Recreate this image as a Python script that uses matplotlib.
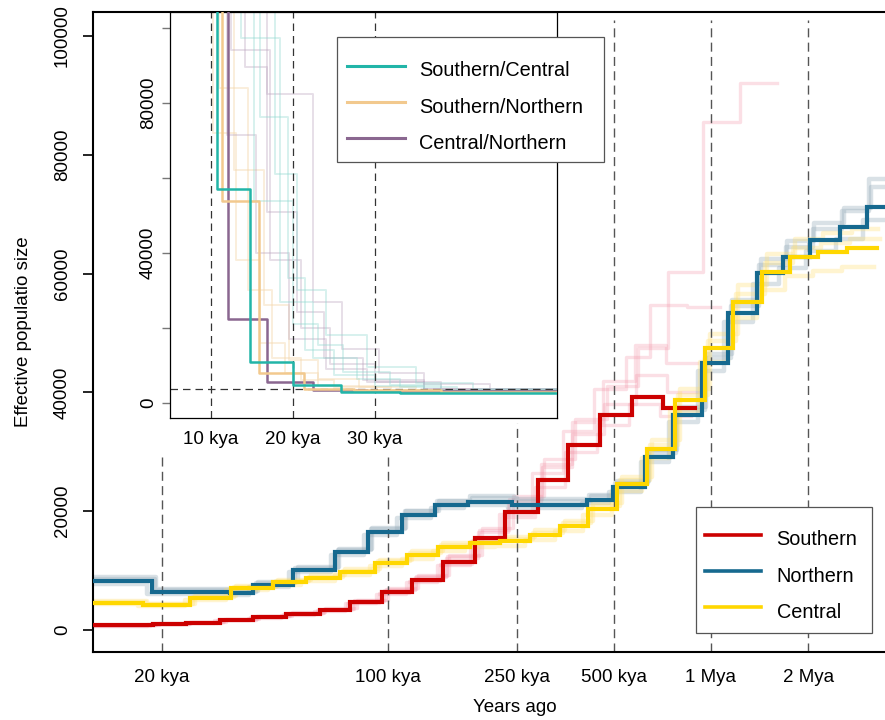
import matplotlib
matplotlib.use("Agg")
import matplotlib.pyplot as plt
from matplotlib.lines import Line2D
from matplotlib.patches import Rectangle
from matplotlib.ticker import NullLocator

plt.rcParams['font.family'] = ['Liberation Sans', 'DejaVu Sans']

# ---------------- main panel data (years, Ne) ----------------
south_t = [10000, 18700, 23700, 30200, 38200, 48300, 61600, 76300, 95800, 118700, 148000,
           186000, 230000, 291000, 361000, 453000, 569000, 710000, 891000]
south_N = [760, 1010, 1260, 1680, 2190, 2690, 3370, 4710, 6400, 8420, 11450,
           15490, 19870, 25250, 31150, 36200, 39230, 37370]

north_t = [8000, 18600, 32400, 38200, 50800, 68500, 86700, 110500, 139800, 176800, 242000,
           413000, 497000, 625000, 763000, 938000, 1129000, 1388000, 1671000, 2026000,
           2508000, 3040000, 4000000]
north_N = [8250, 6400, 6150, 7580, 10100, 13130, 16500, 19360, 21040, 21550, 21040,
           21890, 24070, 29130, 36200, 44950, 53370, 60100, 62800, 65660, 67850, 71210]

central_t = [8000, 17400, 24400, 32700, 44100, 55800, 71000, 91200, 114500, 142900, 179600,
             222000, 275000, 341000, 416000, 512000, 634000, 774000, 958000, 1169000,
             1438000, 1757000, 2145000, 2636000, 3266000]
central_N = [4545, 4210, 5390, 7070, 8080, 8750, 9760, 11280, 12630, 13970, 14650,
             14980, 15990, 17510, 20370, 24580, 30470, 38720, 47480, 55220, 60270,
             62800, 63640, 64310]

# bootstrap replicates
south_b1_t = [10000, 19500, 24800, 31500, 40000, 50500, 64000, 80000, 100000, 124000, 155000,
              195000, 243000, 305000, 380000, 475000, 595000, 736000, 944000, 1229000, 1600000]
south_b1_N = [820, 1100, 1380, 1820, 2400, 2950, 3700, 5100, 7000, 9300, 12600,
              17200, 22500, 28800, 35500, 41000, 47500, 60300, 85500, 92100]
south_b2_t = [10000, 18000, 22800, 29000, 36800, 46500, 59000, 73500, 92000, 114000, 142000,
              179000, 221000, 279000, 347000, 435000, 545000, 647000, 843000, 1067000]
south_b2_N = [700, 950, 1200, 1600, 2100, 2600, 3250, 4500, 6100, 8100, 11000,
              15000, 19500, 26500, 33500, 40500, 46000, 54700, 54400]
south_b3_t = [10000, 19000, 24200, 30800, 39000, 49300, 62800, 78000, 97500, 121000, 151000,
              190000, 236000, 297000, 370000, 463000, 580000, 725000, 905000]
south_b3_N = [790, 1050, 1320, 1750, 2300, 2800, 3500, 4900, 6700, 8900, 12100,
              16500, 21500, 28000, 35000, 42000, 48000, 45000]
south_b4_t = [10000, 18300, 23200, 29600, 37400, 47300, 60300, 74800, 94000, 116500, 145000,
              182000, 225000, 285000, 354000, 444000, 557000, 695000, 870000]
south_b4_N = [740, 980, 1230, 1640, 2120, 2620, 3300, 4600, 6200, 8200, 11100,
              15000, 19000, 24000, 30000, 34500, 38000, 36000]
south_b5_t = [10000, 19200, 24400, 31000, 39300, 49600, 63300, 78500, 98500, 122000, 152000,
              191000, 237000, 299000, 372000, 466000, 585000, 730000, 915000]
south_b5_N = [800, 1060, 1330, 1780, 2320, 2860, 3600, 5000, 6900, 9100, 12400,
              16800, 22000, 27500, 33000, 38000, 43000, 40000]

north_b1_t = [8000, 19200, 33000, 39500, 52500, 70500, 89500, 114000, 144000, 182000, 250000,
              425000, 512000, 645000, 786000, 967000, 1163000, 1430000, 1721000, 2087000,
              2583000, 3131000, 4000000]
north_b1_N = [8900, 6900, 6600, 8000, 10600, 13700, 17200, 20100, 21800, 22300, 21700,
              22600, 25000, 30300, 37600, 46500, 55500, 62500, 65500, 68500, 71000, 74500]
north_b2_t = [8000, 18000, 31500, 37000, 49300, 66500, 84000, 107000, 135500, 171500, 235000,
              400000, 482000, 606000, 740000, 910000, 1095000, 1346000, 1621000, 1965000,
              2433000, 2949000, 4000000]
north_b2_N = [7800, 6000, 5900, 7200, 9700, 12700, 16000, 18800, 20500, 21000, 20600,
              21300, 23300, 28200, 35000, 43600, 51800, 58300, 61000, 63800, 65800, 69000]
north_b3_t = [8000, 19000, 32800, 39000, 51700, 69800, 88300, 112500, 142300, 180000, 246000,
              420000, 506000, 636000, 777000, 955000, 1150000, 1413000, 1701000, 2063000,
              2553000, 3095000, 4000000]
north_b3_N = [8600, 6700, 6400, 7900, 10400, 13500, 17000, 20000, 21700, 22500, 22000,
              22700, 24800, 29800, 37000, 45800, 54500, 61500, 64500, 67500, 70500, 76000]

central_b1_t = [8000, 18000, 25200, 33800, 45600, 57700, 73400, 94300, 118400, 147800, 185700,
                229600, 284400, 352600, 430200, 529500, 655600, 800400, 990700, 1209000,
                1487000, 1817000, 2218000, 2726000, 3300000]
central_b1_N = [4800, 4450, 5700, 7450, 8500, 9200, 10250, 11850, 13250, 14650, 15350,
                15700, 16800, 18400, 21400, 25800, 32000, 40600, 49800, 58000, 63300,
                65900, 66800, 67500]
central_b2_t = [8000, 16800, 23600, 31600, 42600, 53900, 68600, 88100, 110600, 138000, 173500,
                214500, 265600, 329400, 401900, 494600, 612400, 747700, 925400, 1129000,
                1389000, 1697000, 2072000, 2546000, 3200000]
central_b2_N = [4300, 4000, 5100, 6700, 7650, 8300, 9250, 10700, 12000, 13250, 13900,
                14200, 15200, 16600, 19350, 23350, 28950, 36800, 45100, 52450, 57250,
                59650, 60450, 61100]
central_b3_t = [8000, 17800, 24900, 33400, 45000, 57000, 72500, 93100, 116900, 145900, 183400,
                226700, 280800, 348200, 424800, 522800, 647400, 790300, 978200, 1193000,
                1468000, 1794000, 2190000, 2691000, 3330000]
central_b3_N = [4650, 4300, 5500, 7200, 8250, 8950, 10000, 11550, 12950, 14300, 15000,
                15350, 16400, 17950, 20900, 25200, 31200, 39600, 48600, 56600, 61800,
                64300, 65200, 65900]

main_ticks = [20000, 100000, 250000, 500000, 1000000, 2000000]
main_tick_labels = ["20 kya", "100 kya", "250 kya", "500 kya", "1 Mya", "2 Mya"]
y_ticks = [0, 20000, 40000, 60000, 80000, 100000]

# ---------------- inset data (kya, Ne) ----------------
sc_t = [4, 10.7, 14.8, 20.0, 25.8, 33.0, 60]
sc_N = [400000, 57150, 10930, 4710, 3050, 2590]
sn_t = [4, 11.4, 15.9, 21.3, 27.5, 38, 60]
sn_N = [400000, 53870, 8080, 3800, 3400, 3000]
cn_t = [4, 12.1, 16.8, 22.4, 29, 40, 60]
cn_N = [400000, 22480, 5600, 3550, 3300, 3100]

sc_boot_t = [[4, 13.7, 18.4, 22.5, 27.8, 33, 40, 60],
             [4, 15.2, 20.0, 23.1, 26.1, 31.8, 38, 60],
             [4, 16.0, 19.4, 21.5, 25.0, 30.0, 36, 60],
             [4, 17.8, 20.5, 24.0, 29.0, 35.0, 42, 60]]
sc_boot_N = [[400000, 97330, 27000, 12000, 6500, 4200, 3300],
             [400000, 53990, 21150, 15380, 8260, 4800, 3500],
             [400000, 76270, 33200, 14000, 7500, 4500, 3000],
             [400000, 61120, 30100, 18000, 9500, 5200, 3600]]
cn_boot_t = [[4, 12.5, 17.2, 21.0, 24.5, 30, 38, 60],
             [4, 14.1, 16.8, 20.5, 23.8, 28.5, 36, 60],
             [4, 16.8, 22.5, 26.0, 30.5, 36.0, 44, 60],
             [4, 12.0, 15.5, 19.5, 24.0, 29.0, 36.0, 60]]
cn_boot_N = [[400000, 94040, 38000, 20000, 10500, 5500, 3600],
             [400000, 89600, 50880, 24270, 12000, 6200, 3700],
             [400000, 82490, 27000, 14500, 8000, 5000, 3400],
             [400000, 71380, 40000, 17000, 9000, 5500, 3800]]
sn_boot_t = [[4, 10.3, 13.0, 16.0, 19.0, 23, 30, 60],
             [4, 11.0, 14.5, 17.5, 21.0, 25, 32, 60],
             [4, 12.8, 16.5, 19.5, 23.0, 28, 35, 60]]
sn_boot_N = [[400000, 72000, 38000, 16000, 8000, 4500, 3500],
             [400000, 84000, 30000, 12000, 6000, 4200, 3400],
             [400000, 62000, 26000, 11500, 6500, 4300, 3500]]

inset_xticks = [10, 20, 30]
inset_xlabels = ["10 kya", "20 kya", "30 kya"]
inset_yticks = [0, 20000, 40000, 60000, 80000, 100000]
inset_ylabels = ["0", "", "40000", "", "80000", ""]
inset_hline = 3800

RED = "#CC0000"
BLUE = "#16698F"
GOLD = "#FFD700"
TEAL = "#22B5A8"
ORANGE = "#F2C98E"
PURPLE = "#8A6790"

W, H = 885, 720
fig = plt.figure(figsize=(W / 100, H / 100), dpi=100)


def stairs(ax, t, n, **kw):
    return ax.plot(t, list(n) + [n[-1]], drawstyle="steps-post", **kw)


def fig_box(x0, y0, x1, y1, z):
    # legend frame in figure pixel coordinates (top-left origin)
    r = Rectangle((x0 / W, 1 - y1 / H), (x1 - x0) / W, (y1 - y0) / H,
                  transform=fig.transFigure, facecolor="white",
                  edgecolor="#555555", linewidth=0.9, zorder=z)
    fig.patches.append(r)


# ---------------- main axes ----------------
ax = fig.add_axes([93 / W, 1 - 652 / H, (W - 93) / W, 640 / H])
ax.set_xscale("log")
ax.set_xlim(12210, 3457000)
ax.set_ylim(-3704, 104040)

for t, n in [(south_b1_t, south_b1_N), (south_b2_t, south_b2_N), (south_b3_t, south_b3_N),
             (south_b4_t, south_b4_N), (south_b5_t, south_b5_N)]:
    stairs(ax, t, n, color="#F28FA3", alpha=0.28, lw=2.4, zorder=1)
for t, n in [(north_b1_t, north_b1_N), (north_b2_t, north_b2_N), (north_b3_t, north_b3_N)]:
    stairs(ax, t, n, color="#93AAB8", alpha=0.35, lw=3.2, zorder=1)
for t, n in [(central_b1_t, central_b1_N), (central_b2_t, central_b2_N), (central_b3_t, central_b3_N)]:
    stairs(ax, t, n, color="#FFDD66", alpha=0.3, lw=3.2, zorder=1)

# dashed guides (partly hidden by the inset)
vl_top = [0.305, 0.305, 0.358, 0.9875, 0.9875, 0.9875]
for xv, top in zip(main_ticks, vl_top):
    ax.axvline(xv, ymin=0, ymax=top, color="#555555", lw=1.0,
               linestyle=(0, (6.5, 3.8)), zorder=1.5)

stairs(ax, south_t, south_N, color=RED, lw=3.0, zorder=3, solid_joinstyle="miter")
stairs(ax, north_t, north_N, color=BLUE, lw=3.0, zorder=3, solid_joinstyle="miter")
stairs(ax, central_t, central_N, color=GOLD, lw=3.0, zorder=3.1, solid_joinstyle="miter")

ax.spines["right"].set_visible(False)
for s in ["left", "bottom", "top"]:
    ax.spines[s].set_linewidth(1.5)
ax.xaxis.set_minor_locator(NullLocator())
ax.set_xticks(main_ticks)
ax.set_xticklabels(main_tick_labels, fontsize=13.5)
ax.tick_params(axis="x", length=0, pad=12)
ax.set_yticks(y_ticks)
ax.set_yticklabels([str(v) for v in y_ticks], rotation=90, va="center", fontsize=13.5)
ax.tick_params(axis="y", length=7, width=1.2, pad=9)
ax.set_ylabel("Effective populatio size", fontsize=13.5)
ax.yaxis.set_label_coords((32 - 93) / (W - 93), 0.5)
ax.set_xlabel("Years ago", fontsize=13.5)
ax.xaxis.set_label_coords((515 - 93) / (W - 93), -(699 - 652) / 640)

# ---------------- main legend ----------------
fig_box(696, 507, 872, 633, 5)
main_handles = [Line2D([], [], color=RED, lw=2.6),
                Line2D([], [], color=BLUE, lw=2.6),
                Line2D([], [], color=GOLD, lw=2.6)]
leg = fig.legend(main_handles, ["Southern", "Northern", "Central"],
                 loc="upper left", bbox_to_anchor=(705 / W, 1 - 525 / H),
                 bbox_transform=fig.transFigure, borderaxespad=0,
                 fontsize=14.3, frameon=False,
                 handlelength=2.8, handleheight=1.8, handletextpad=0.8,
                 labelspacing=0.4, borderpad=0)
leg.set_zorder(6)

# ---------------- inset axes ----------------
ax2 = fig.add_axes([170 / W, 1 - 418 / H, (557 - 170) / W, (418 - 12) / H])
ax2.set_zorder(4)
ax2.set_facecolor("white")
ax2.set_xlim(5.0, 52.2)
ax2.set_ylim(-4000, 104260)

for t, n in zip(sn_boot_t, sn_boot_N):
    stairs(ax2, t, n, color="#F5D9B0", alpha=0.45, lw=1.4, zorder=1)
for t, n in zip(cn_boot_t, cn_boot_N):
    stairs(ax2, t, n, color="#B9A2BE", alpha=0.35, lw=1.4, zorder=1)
for t, n in zip(sc_boot_t, sc_boot_N):
    stairs(ax2, t, n, color="#8ED8D0", alpha=0.35, lw=1.4, zorder=1)

for xv in inset_xticks:
    ax2.axvline(xv, color="#333333", lw=0.9, linestyle=(0, (6, 4)), zorder=1.5)
ax2.axhline(inset_hline, color="#333333", lw=0.9, linestyle=(0, (6, 4)), zorder=1.5)

stairs(ax2, cn_t, cn_N, color=PURPLE, lw=1.8, zorder=3)
stairs(ax2, sn_t, sn_N, color=ORANGE, lw=1.8, zorder=3)
stairs(ax2, sc_t, sc_N, color=TEAL, lw=1.8, zorder=3.1)

for s in ax2.spines.values():
    s.set_linewidth(0.9)
ax2.set_xticks(inset_xticks)
ax2.set_xticklabels(inset_xlabels, fontsize=13.5)
ax2.tick_params(axis="x", length=0, pad=9)
ax2.set_yticks(inset_yticks)
ax2.set_yticklabels(inset_ylabels, rotation=90, va="center", fontsize=13.5)
ax2.tick_params(axis="y", length=6, width=1.0, color="#777777", pad=3.5)

# ---------------- inset legend ----------------
fig_box(337, 37, 604, 162, 9)
inset_handles = [Line2D([], [], color=TEAL, lw=2.2),
                 Line2D([], [], color=ORANGE, lw=2.2),
                 Line2D([], [], color=PURPLE, lw=2.2)]
leg2 = fig.legend(inset_handles, ["Southern/Central", "Southern/Northern", "Central/Northern"],
                  loc="upper left", bbox_to_anchor=(347 / W, 1 - 56 / H),
                  bbox_transform=fig.transFigure, borderaxespad=0,
                  fontsize=14.3, frameon=False,
                  handlelength=2.9, handleheight=1.8, handletextpad=0.75,
                  labelspacing=0.4, borderpad=0)
leg2.set_zorder(10)

fig.savefig("out.png", dpi=100)
